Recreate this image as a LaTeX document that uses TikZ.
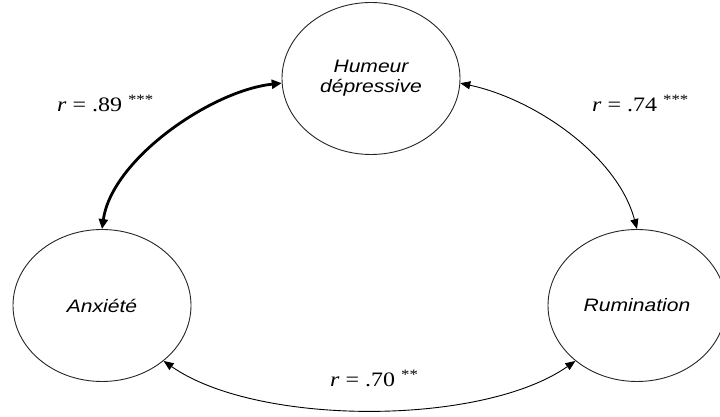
\documentclass[tikz,border=0pt]{standalone}
\usepackage{fontspec}
\setmainfont{Liberation Serif}
\newfontfamily\arialfont{Liberation Sans}
\usetikzlibrary{shapes.geometric,arrows.meta}
\newcommand\widen[1]{\scalebox{1.17}[1]{#1}}
\tikzset{
  var/.style={ellipse, draw=black!85, line width=0.9pt, minimum width=178pt, minimum height=152pt, inner sep=0pt, align=center, font=\arialfont\itshape\fontsize{18}{20}\selectfont},
  corr/.style={line width=0.9pt, {Triangle[length=10pt,width=8pt]}-{Triangle[length=10pt,width=8pt]}},
  corrthick/.style={line width=2.8pt, {Triangle[length=10pt,width=9pt]}-{Triangle[length=10pt,width=9pt]}},
  lab/.style={anchor=base west, inner sep=0pt, font=\fontsize{20.5}{22}\selectfont}
}
\begin{document}
\begin{tikzpicture}[x=1pt,y=1pt]
\useasboundingbox (0,0) rectangle (720,417);
\node[var] (T) at (371,338.5) {\widen{Humeur}\\\widen{dépressive}};
\node[var] (L) at (102,111.5) {\widen{Anxiété}};
\node[var] (R) at (637,111.5) {\widen{Rumination}};
\draw[corrthick] (L.90) to[out=82,in=186,looseness=0.78] (T.183);
\draw[corr] (T.-3) to[out=-12,in=105,looseness=0.85] (R.90);
\draw[corr] (L.-42) to[out=-35,in=-145,looseness=0.71] (R.-138);
\node[lab] (l1) at (57,305) {\widen{\textit{r} = .89 \textsuperscript{***}}};
\node[lab] (l2) at (592,305) {\widen{\textit{r} = .74 \textsuperscript{***}}};
\node[lab] (l3) at (330,30) {\widen{\textit{r} = .70 \textsuperscript{**}}};
\end{tikzpicture}
\end{document}
